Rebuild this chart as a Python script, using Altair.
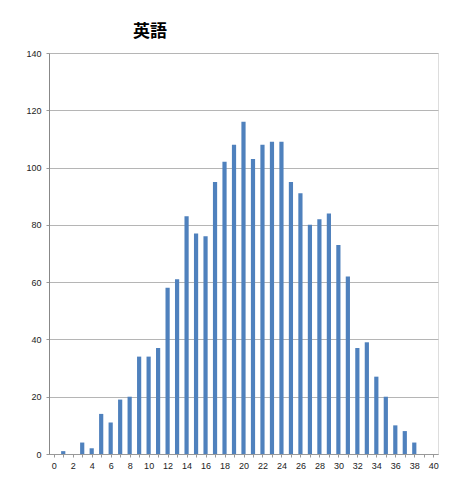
import altair as alt
import pandas as pd

scores = list(range(0, 41))
counts = [0, 1, 0, 4, 2, 14, 11, 19, 20, 34, 34, 37, 58, 61, 83, 77, 76, 95, 102, 108,
          116, 103, 108, 109, 109, 95, 91, 80, 82, 84, 73, 62, 37, 39, 27, 20, 10, 8, 4, 0, 0]
x_ticks = list(range(0, 41))
y_ticks = list(range(0, 141, 20))
title_text = "英語"

df = pd.DataFrame({"score": scores, "count": counts})

font = "Liberation Sans"

bars = alt.Chart(df).mark_bar(color="#4F81BD", size=4.2).encode(
    x=alt.X(
        "score:Q",
        scale=alt.Scale(domain=[-0.5, 40.5], nice=False, zero=False, padding=0),
        axis=alt.Axis(
            title=None,
            values=x_ticks,
            labelExpr="datum.value % 2 == 0 ? datum.label : ''",
            labelAngle=0,
            labelFont=font,
            labelFontSize=9,
            labelColor="#222222",
            labelPadding=4,
            labelOverlap=False,
            labelFlush=False,
            tickSize=3,
            tickColor="#999999",
            domainColor="#999999",
            grid=False,
        ),
    ),
    y=alt.Y(
        "count:Q",
        scale=alt.Scale(domain=[0, 140], nice=False),
        axis=alt.Axis(
            title=None,
            values=y_ticks,
            labelFont=font,
            labelFontSize=9,
            labelColor="#222222",
            labelPadding=5,
            tickSize=3,
            tickColor="#999999",
            domainColor="#888888",
            gridColor="#b5b5b5",
            gridWidth=1,
        ),
    ),
)

chart = bars.properties(
    width=389,
    height=401,
    title=alt.TitleParams(
        text=title_text,
        anchor="start",
        dx=107,
        offset=8,
        font="Noto Sans CJK JP",
        fontSize=17,
        fontWeight="bold",
        color="#000000",
    ),
    autosize=alt.AutoSizeParams(type="none"),
    padding={"left": 41, "top": 45, "right": 13, "bottom": 25},
).configure_view(stroke=None).configure(background="white")

chart.save("out.html", embed_options={"renderer": "svg", "actions": False})
